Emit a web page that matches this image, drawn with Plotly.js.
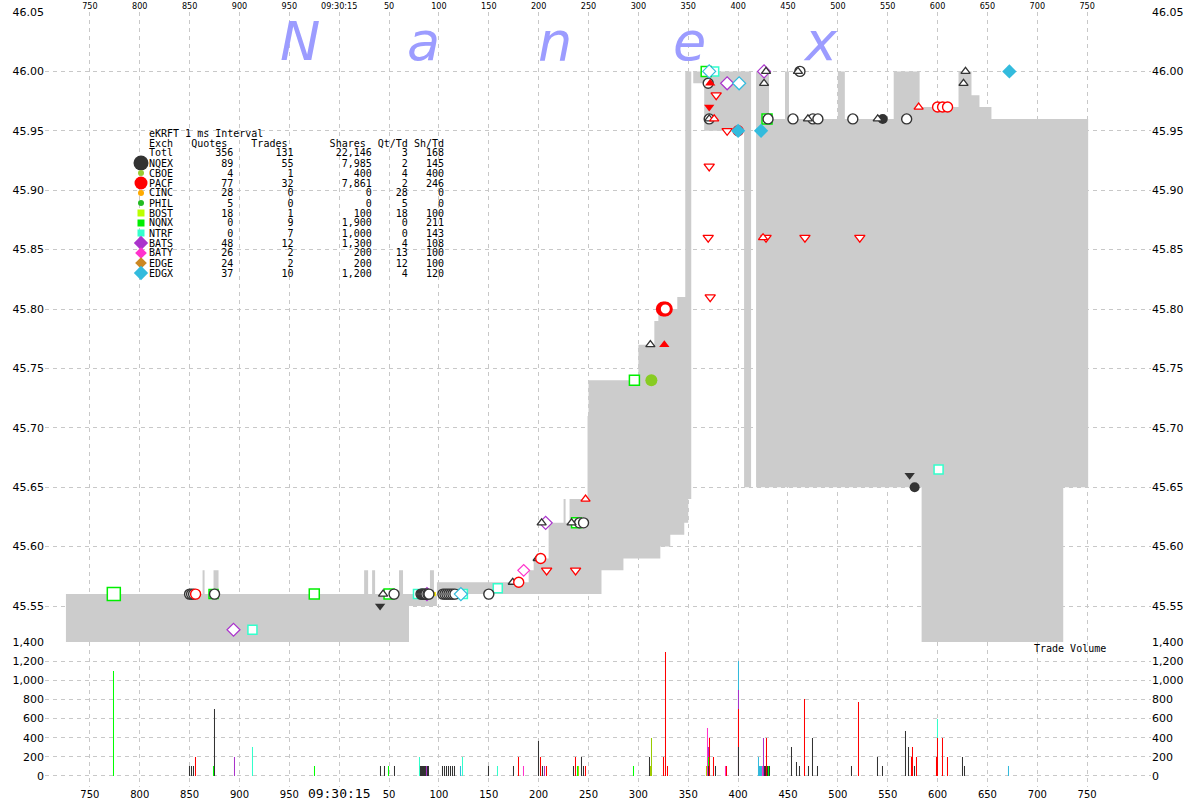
<!DOCTYPE html>
<html><head><meta charset="utf-8">
<script src="https://cdn.plot.ly/plotly-3.0.1.min.js"></script>
<style>html,body{margin:0;padding:0;background:#fff}#chart{width:1200px;height:800px}</style>
</head><body><div id="chart"></div>
<script>
// x = milliseconds relative to 09:30:15.000 (negative = previous second)
const xTickVals = [-250,-200,-150,-100,-50,0,50,100,150,200,250,300,350,400,450,500,550,600,650,700,750];
const xTickText = ["750","800","850","900","950","09:30:15","50","100","150","200","250","300","350","400","450","500","550","600","650","700","750"];
const priceTicks = [45.55,45.60,45.65,45.70,45.75,45.80,45.85,45.90,45.95,46.00,46.05];
const volTicks = [0,200,400,600,800,1000,1200,1400];

// NBBO band (step changes): time, best ask, best bid
const bandT   = [-274,-137,-135,-126,-121,25,29,33,36,60,64,70,91,95,98,190,195,210,225,227,231,249,250,263,285,300,316,320,322,332,339,346,347,350,353,355,366,406,413,418,431,447,451,500,507,556,582,584,621,634,642,654,726,751];
const bandAsk = [45.56,45.58,45.56,45.58,45.56,45.58,45.56,45.58,45.56,45.58,45.56,45.56,45.58,45.56,45.57,45.58,45.59,45.62,45.64,45.62,45.64,45.71,45.74,45.74,45.74,45.77,45.79,45.80,45.80,45.80,45.81,45.81,46.00,46.00,46.00,46.00,46.00,46.00,46.00,46.00,45.96,46.00,45.96,46.00,45.96,46.00,45.97,45.97,46.00,45.98,45.97,45.96,45.96,45.96];
const bandBid = [45.45,45.45,45.45,45.45,45.45,45.45,45.45,45.45,45.45,45.45,45.45,45.55,45.55,45.55,45.56,45.56,45.56,45.56,45.56,45.56,45.56,45.56,45.56,45.58,45.59,45.59,45.59,45.59,45.60,45.61,45.61,45.62,45.62,45.64,46.00,45.99,45.95,45.65,46.00,45.65,45.65,45.65,45.65,45.65,45.65,45.65,45.65,45.45,45.45,45.45,45.45,45.45,45.65,45.65];

// Trades / quotes on price panel
const nqexOpenT = [-150,-148,-146,-125,55,82,83,84,85,86,87,89,90,104,106,108,110,112,114,116,150,241,245,370,371,430,455,462,475,480,515,569];
const nqexOpenP = [45.56,45.56,45.56,45.56,45.56,45.56,45.56,45.56,45.56,45.56,45.56,45.56,45.56,45.56,45.56,45.56,45.56,45.56,45.56,45.56,45.56,45.62,45.62,45.99,45.96,45.96,45.96,46.00,45.96,45.96,45.96,45.96];
const nqexFillT = [545,577];
const nqexFillP = [45.96,45.65];
const nqexDomeT = [44,174,199,203,233,312,371,426,428,460,470,540,626,628];
const nqexDomeP = [45.56,45.57,45.59,45.62,45.62,45.77,45.96,45.99,46.00,46.00,45.96,45.96,45.99,46.00];
const nqexBowlT = [41,572];
const nqexBowlP = [45.55,45.66];
const pacfOpenT = [-144,180,202,400,600,605,610];
const pacfOpenP = [45.56,45.57,45.59,45.95,45.97,45.97,45.97];
const pacfBigT = [325,327];
const pacfBigP = [45.80,45.80];
const pacfBowlT = [208,237,370,371,372,378,389,428,467,522];
const pacfBowlP = [45.58,45.58,45.86,45.92,45.81,45.98,45.95,45.86,45.86,45.86];
const pacfDomeT = [247,376,425,581];
const pacfDomeP = [45.64,45.96,45.86,45.97];
const pacfDomeFillT = [326,372];
const pacfDomeFillP = [45.77,45.99];
const pacfBowlFillT = [371];
const pacfBowlFillP = [45.97];
const nqnxT = [-226,-126,-25,50,238,296,368,429];
const nqnxP = [45.56,45.56,45.56,45.56,45.62,45.74,46.00,45.96];
const ntrfT = [-87,79,124,159,376,601];
const ntrfP = [45.53,45.56,45.56,45.565,46.00,45.665];
const batsT = [-106,88,207,389,426];
const batsP = [45.53,45.56,45.62,45.99,46.00];
const batyT = [185];
const batyP = [45.58];
const edgxOpenT = [122,371,401];
const edgxOpenP = [45.56,46.00,45.99];
const edgxFillT = [400,423,672];
const edgxFillP = [45.95,45.95,46.00];
const cboeT = [313];
const cboeP = [45.74];
const bostT = [95];
const bostP = [45.56];

// Trade volume bars
const volNQEXt = [-150,-148,-146,-125,41,45,55,82,83,84,85,86,87,89,90,104,106,108,110,112,114,116,150,175,200,204,235,243,245,311,370,377,400,426,427,429,431,454,459,462,471,475,480,514,540,545,568,571,577,625,627];
const volNQEXs = [100,100,100,700,100,100,100,100,100,100,100,100,100,100,100,100,100,100,100,100,100,100,100,100,370,100,100,200,100,200,100,100,300,100,100,100,100,300,150,100,100,400,100,100,200,100,470,300,100,200,100];
const volPACFt = [-144,180,202,208,237,247,325,327,329,371,375,388,400,428,467,521,574,575,579,599,600,605,610];
const volPACFs = [200,200,200,100,200,100,200,1300,100,400,200,100,700,400,800,770,200,300,200,200,400,400,200];
const volNQNXt = [-226,-126,-25,49,239,295,370,430];
const volNQNXs = [1100,100,100,100,100,100,200,100];
const volBOSTt = [240,312,368];
const volBOSTs = [100,100,100];
const volCBOEt = [313];
const volCBOEs = [400];
const volNTRFt = [-87,81,124,159,600];
const volNTRFs = [300,200,200,100,600];
const volBATSt = [-105,88,206,370,400,425];
const volBATSs = [200,100,100,300,900,400];
const volBATYt = [185,369,387,424];
const volBATYs = [100,500,100,100];
const volEDGXt = [122,400,420,421,422,423,671];
const volEDGXs = [100,1200,200,100,100,100,100];

// Summary table
const tableTitle = "eKRFT 1 ms Interval";
const exch   = ["NQEX","CBOE","PACF","CINC","PHIL","BOST","NQNX","NTRF","BATS","BATY","EDGE","EDGX"];
const quotes = [89,4,77,28,5,18,0,0,48,26,24,37];
const trades = [55,1,32,0,0,1,9,7,12,2,2,10];
const shares = [7985,400,7861,0,0,100,1900,1000,1300,200,200,1200];
const qtTd   = [2,4,2,28,5,18,0,0,4,13,12,4];
const shTd   = [145,400,246,0,0,100,211,143,108,100,100,120];
const totals = ["Totl",356,131,22146,3,168];

const C = {NQEX:"#333333",CBOE:"#99cc33",PACF:"#ff0000",CINC:"#ffaa00",PHIL:"#22bb22",BOST:"#bbff00",NQNX:"#00ee00",NTRF:"#33ffcc",BATS:"#aa33cc",BATY:"#ff33cc",EDGE:"#cc8822",EDGX:"#33bbdd"};
const legSym = {NQEX:["circle",15],CBOE:["circle",6],PACF:["circle",13],CINC:["circle",6],PHIL:["circle",6],BOST:["square",7],NQNX:["square",7],NTRF:["square",7],BATS:["diamond",11],BATY:["diamond",9],EDGE:["diamond",9],EDGX:["diamond",11]};

function mk(t,p,name,marker){marker.opacity=1;return {x:t,y:p,type:"scatter",mode:"markers",name:name,marker:marker,xaxis:"x",yaxis:"y",hoverinfo:"x+y+name",showlegend:false};}
function bars(t,s,name,color){return {x:t,y:s,type:"bar",name:name,width:1,opacity:1,marker:{color:color,opacity:1,line:{width:0.02,color:color}},xaxis:"x",yaxis:"y2",showlegend:false,hoverinfo:"x+y+name"};}

// layout geometry (pixels)
const W = 1200, H = 800, ML = 45, MR = 49, MT = 12, MB = 13;
const px = v => (v - ML) / (W - ML - MR);
const py = v => (H - MB - v) / (H - MT - MB);
const split = py(642);

const traces = [
  {x:bandT,y:bandBid,type:"scatter",mode:"lines",line:{width:0,shape:"hv"},hoverinfo:"skip",showlegend:false,xaxis:"x",yaxis:"y"},
  {x:bandT,y:bandAsk,type:"scatter",mode:"lines",line:{width:0,shape:"hv"},fill:"tonexty",fillcolor:"#cccccc",hoverinfo:"skip",showlegend:false,xaxis:"x",yaxis:"y"},
  mk(batyT,batyP,"BATY",{symbol:"diamond",size:9,color:"#ffffff",line:{color:C.BATY,width:1.2}}),
  mk(batsT,batsP,"BATS",{symbol:"diamond",size:10,color:"#ffffff",line:{color:C.BATS,width:1.2}}),
  mk(ntrfT,ntrfP,"NTRF",{symbol:"square",size:9,color:"#ffffff",line:{color:C.NTRF,width:1.5}}),
  mk(nqnxT,nqnxP,"NQNX",{symbol:"square",size:[13,9,10,10,10,10,10,10],color:"#ffffff",line:{color:C.NQNX,width:1.5}}),
  mk(bostT,bostP,"BOST",{symbol:"square",size:4,color:"#ffee00",line:{width:0}}),
  mk(nqexOpenT,nqexOpenP,"NQEX",{symbol:"circle",size:10,color:"#ffffff",line:{color:C.NQEX,width:1.4}}),
  mk(nqexFillT,nqexFillP,"NQEX",{symbol:"circle",size:10,color:C.NQEX,line:{width:0}}),
  mk(nqexDomeT,nqexDomeP,"NQEX quote",{symbol:"triangle-up",size:8,color:"#ffffff",line:{color:C.NQEX,width:1.3}}),
  mk(nqexBowlT,nqexBowlP,"NQEX quote",{symbol:"triangle-down",size:9,color:C.NQEX,line:{width:0}}),
  mk(pacfBowlT,pacfBowlP,"PACF quote",{symbol:"triangle-down",size:9,color:"#ffffff",line:{color:C.PACF,width:1.3}}),
  mk(pacfDomeT,pacfDomeP,"PACF quote",{symbol:"triangle-up",size:8,color:"#ffffff",line:{color:C.PACF,width:1.3}}),
  mk(pacfDomeFillT,pacfDomeFillP,"PACF quote",{symbol:"triangle-up",size:9,color:C.PACF,line:{width:0}}),
  mk(pacfBowlFillT,pacfBowlFillP,"PACF quote",{symbol:"triangle-down",size:9,color:C.PACF,line:{width:0}}),
  mk(pacfOpenT,pacfOpenP,"PACF",{symbol:"circle",size:10,color:"#ffffff",line:{color:C.PACF,width:1.4}}),
  mk(pacfBigT,pacfBigP,"PACF",{symbol:"circle",size:12,color:"#ffffff",line:{color:C.PACF,width:3}}),
  mk(cboeT,cboeP,"CBOE",{symbol:"circle",size:12,color:"#88cc22",line:{width:0}}),
  mk(edgxOpenT,edgxOpenP,"EDGX",{symbol:"diamond",size:10,color:"#ffffff",line:{color:C.EDGX,width:1.2}}),
  mk(edgxFillT,edgxFillP,"EDGX",{symbol:"diamond",size:11,color:C.EDGX,line:{width:0}}),
  bars(volEDGXt,volEDGXs,"EDGX",C.EDGX),
  bars(volBATYt,volBATYs,"BATY",C.BATY),
  bars(volNTRFt,volNTRFs,"NTRF",C.NTRF),
  bars(volBATSt,volBATSs,"BATS",C.BATS),
  bars(volPACFt,volPACFs,"PACF",C.PACF),
  bars(volNQNXt,volNQNXs,"NQNX","#00ff00"),
  bars(volBOSTt,volBOSTs,"BOST","#aacc00"),
  bars(volCBOEt,volCBOEs,"CBOE","#99cc00"),
  bars(volNQEXt,volNQEXs,"NQEX",C.NQEX),
  // table key symbols, placed on a hidden pixel-unit overlay axis
  {x:exch.map(()=>141),y:exch.map((e,k)=>163+10*k),type:"scatter",mode:"markers",xaxis:"x3",yaxis:"y5",hoverinfo:"skip",showlegend:false,
   marker:{symbol:exch.map(e=>legSym[e][0]),size:exch.map(e=>legSym[e][1]),color:exch.map(e=>C[e]),opacity:1,line:{width:0}}},
  // carriers for the mirrored axes
  {x:[null],y:[null],type:"scatter",mode:"markers",xaxis:"x2",yaxis:"y",showlegend:false,hoverinfo:"skip"},
  {x:[null],y:[null],type:"scatter",mode:"markers",xaxis:"x",yaxis:"y3",showlegend:false,hoverinfo:"skip"},
  {x:[null],y:[null],type:"scatter",mode:"markers",xaxis:"x",yaxis:"y4",showlegend:false,hoverinfo:"skip"}
];

const nb = s => s.replace(/ /g, "\u00a0");
const fmt = n => n.toLocaleString("en-US");
const annotations = [];
const mono = {family:"DejaVu Sans Mono, monospace", size:10, color:"#000"};
function row(text, i){annotations.push({text:nb(text),xref:"paper",yref:"paper",x:px(147),y:py(133+10*i),xanchor:"left",yanchor:"middle",showarrow:false,font:mono});}
row(tableTitle,0);
row("Exch"+"Quotes".padStart(9)+"Trades".padStart(10)+"Shares".padStart(13)+"Qt/Td".padStart(7)+"Sh/Td".padStart(6),1);
row(totals[0]+String(totals[1]).padStart(10)+String(totals[2]).padStart(10)+fmt(totals[3]).padStart(13)+String(totals[4]).padStart(6)+String(totals[5]).padStart(6),2);
exch.forEach((e,k)=>{
  row(e+String(quotes[k]).padStart(10)+String(trades[k]).padStart(10)+fmt(shares[k]).padStart(13)+String(qtTd[k]).padStart(6)+String(shTd[k]).padStart(6),3+k);
});
// watermark
const wm = ["N","a","n","e","x"], wmX = [300,423,555,689,821];
wm.forEach((c,k)=>annotations.push({text:c,xref:"paper",yref:"paper",x:px(wmX[k]),y:py(42),xanchor:"center",yanchor:"middle",showarrow:false,font:{family:"DejaVu Sans",size:54,color:"#9c9cff",style:"italic"}}));
annotations.push({text:nb("Trade Volume"),xref:"paper",yref:"paper",x:px(1032),y:py(648),xanchor:"left",yanchor:"middle",showarrow:false,font:mono});

const grid = {showgrid:true,gridcolor:"#c8c8c8",griddash:"4px,4px",gridwidth:1,zeroline:false,showline:false,ticks:""};
const tf = {family:"DejaVu Sans, sans-serif",size:11,color:"#000"};
const xRange = [-295,814];
const bottomText = xTickText.map(s=>s.indexOf(":")>0?'<span style="font-size:13px;font-family:DejaVu Sans Mono">'+s+'</span>':s);
const hidden = {visible:false,showgrid:false,zeroline:false,fixedrange:true};

const layout = {
  width:W,height:H,margin:{l:ML,r:MR,t:MT,b:MB},
  paper_bgcolor:"#ffffff",plot_bgcolor:"#ffffff",
  showlegend:false,barmode:"overlay",bargap:0,hovermode:false,dragmode:false,
  xaxis:Object.assign({},grid,{range:xRange,anchor:"y2",domain:[0,1],tickmode:"array",tickvals:xTickVals,ticktext:bottomText,tickfont:{family:"DejaVu Sans, sans-serif",size:10,color:"#000"}}),
  xaxis2:{range:xRange,overlaying:"x",side:"top",anchor:"y",tickmode:"array",tickvals:xTickVals,ticktext:xTickText,showgrid:false,zeroline:false,showline:false,ticks:"",tickfont:{family:"DejaVu Sans Condensed, DejaVu Sans, sans-serif",size:9,color:"#000"}},
  xaxis3:Object.assign({},hidden,{overlaying:"x",range:[ML,W-MR],anchor:"y5"}),
  yaxis:Object.assign({},grid,{domain:[split,1],range:[45.5197,46.05],anchor:"x",tickmode:"array",tickvals:priceTicks,ticktext:priceTicks.map(v=>v.toFixed(2)),tickfont:tf}),
  yaxis3:{overlaying:"y",side:"right",anchor:"x",range:[45.5197,46.05],tickmode:"array",tickvals:priceTicks,ticktext:priceTicks.map(v=>v.toFixed(2)),showgrid:false,zeroline:false,showline:false,ticks:"",tickfont:tf},
  yaxis5:Object.assign({},hidden,{overlaying:"y",range:[642,MT],anchor:"x3"}),
  yaxis2:Object.assign({},grid,{domain:[0,split],range:[-115,1400],anchor:"x",tickmode:"array",tickvals:volTicks,ticktext:volTicks.map(fmt),tickfont:tf}),
  yaxis4:{overlaying:"y2",side:"right",anchor:"x",range:[-115,1400],tickmode:"array",tickvals:volTicks,ticktext:volTicks.map(fmt),showgrid:false,zeroline:false,showline:false,ticks:"",tickfont:tf},
  annotations:annotations
};
Plotly.newPlot("chart",traces,layout,{displayModeBar:false,responsive:false});
</script></body></html>
